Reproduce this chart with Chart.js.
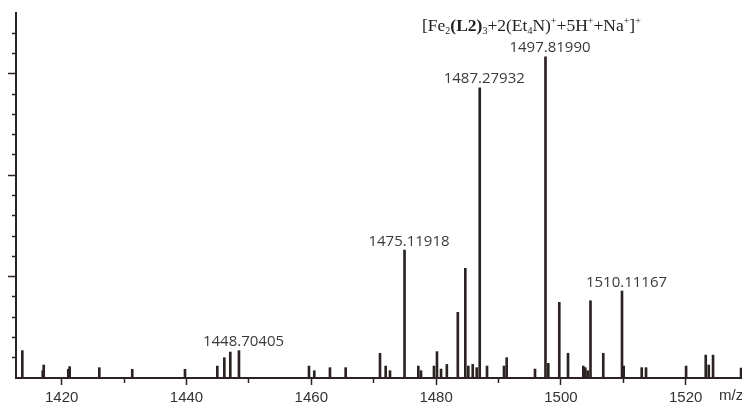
<!DOCTYPE html>
<html>
<head>
<meta charset="utf-8">
<script src="https://cdn.jsdelivr.net/npm/chart.js@4.4.1/dist/chart.umd.min.js"></script>
<style>
  html, body { margin: 0; padding: 0; background: #fff; }
  #wrap { width: 742px; height: 405px; }
</style>
</head>
<body>
<div id="wrap"><canvas id="myChart"></canvas></div>
<script>
// peak positions (m/z) and relative intensities
var mz = [1413.69, 1416.96, 1417.12, 1421.06, 1421.28, 1426.03, 1431.31, 1439.76,
  1444.94, 1446.06, 1447.02, 1448.41, 1459.63, 1460.48, 1462.99, 1465.51,
  1471.01, 1471.92, 1472.61, 1474.94, 1477.15, 1477.58, 1479.66, 1480.14,
  1480.79, 1481.72, 1483.48, 1484.68, 1485.16, 1485.87, 1486.51, 1486.99,
  1488.16, 1490.88, 1491.31, 1495.85, 1497.53, 1497.98, 1499.74, 1501.14,
  1503.59, 1503.91, 1504.29, 1504.74, 1506.79, 1509.79, 1510.06, 1512.95,
  1513.64, 1520.06, 1523.21, 1523.69, 1524.38, 1528.87];
var intensity = [1.35, 0.36, 0.64, 0.43, 0.56, 0.51, 0.43, 0.43,
  0.59, 1.0, 1.28, 1.35, 0.59, 0.36, 0.51, 0.51,
  1.22, 0.59, 0.36, 6.31, 0.59, 0.36, 0.59, 1.3,
  0.44, 0.67, 3.24, 5.41, 0.59, 0.67, 0.51, 14.31,
  0.59, 0.59, 1.0, 0.44, 15.84, 0.72, 3.73, 1.22,
  0.59, 0.51, 0.36, 3.81, 1.22, 4.29, 0.59, 0.51,
  0.51, 0.59, 1.13, 0.64, 1.13, 0.49];

// annotated peaks: where they sit on the axis and the text printed above them
var labelPos = [1448.41, 1474.94, 1486.99, 1497.53, 1509.79];
var labelText = ['1448.70405', '1475.11918', '1487.27932', '1497.81990', '1510.11167'];

var xMin = 1412.68, xMax = 1529.02;
var yMax = 18;

var ink = '#2a2322';

// ion formula, split in runs: n = normal, b = bold, sub / sup = small
var formula = [
  ['[Fe', 'n'], ['2', 'sub'], ['(L2)', 'b'], ['3', 'sub'], ['+2(Et', 'n'], ['4', 'sub'],
  ['N)', 'n'], ['+', 'sup'], ['+5H', 'n'], ['+', 'sup'], ['+Na', 'n'], ['+', 'sup'],
  [']', 'n'], ['+', 'sup']
];

function tickVal(ctx) { return ctx && ctx.tick ? ctx.tick.value : null; }

var annotate = {
  id: 'annotate',
  afterDatasetsDraw: function(chart) {
    var c = chart.ctx, xs = chart.scales.x, ys = chart.scales.y;
    c.save();
    // peak labels
    c.font = '15px "Open Sans"';
    c.fillStyle = '#3a3a3a';
    c.textAlign = 'center';
    c.textBaseline = 'alphabetic';
    labelPos.forEach(function(p, k) {
      var i = mz.indexOf(p);
      var px = xs.getPixelForValue(p);
      var py = ys.getPixelForValue(intensity[i]);
      c.fillText(labelText[k], px + 4.5, py - 4.5);
    });

    // m/z axis name
    c.font = '15px "Liberation Sans"';
    c.fillStyle = '#333';
    c.textAlign = 'left';
    c.textBaseline = 'top';
    c.fillText('m/z', 719, 388.5);

    // formula
    c.textBaseline = 'alphabetic';
    var x = 422, base = 31;
    formula.forEach(function(run) {
      var t = run[0], s = run[1], dy = 0;
      if (s === 'n') c.font = '17.5px "Liberation Serif"';
      else if (s === 'b') c.font = 'bold 17.5px "Liberation Serif"';
      else { c.font = '10px "Liberation Serif"'; dy = s === 'sub' ? 3 : -7; }
      c.fillStyle = '#222';
      c.fillText(t, x, base + dy);
      x += c.measureText(t).width;
    });
    c.restore();
  }
};

new Chart(document.getElementById('myChart'), {
  type: 'bar',
  data: {
    datasets: [{
      data: mz.map(function(m, i) { return { x: m, y: intensity[i] }; }),
      backgroundColor: ink,
      borderWidth: 0,
      barThickness: 2
    }]
  },
  options: {
    responsive: true,
    maintainAspectRatio: false,
    animation: false,
    layout: { padding: { top: 13, right: 0, left: 0, bottom: 0 } },
    plugins: { legend: { display: false }, tooltip: { enabled: false } },
    scales: {
      x: {
        type: 'linear',
        min: xMin,
        max: xMax,
        offset: false,
        border: { color: ink, width: 2 },
        grid: {
          offset: false,
          drawOnChartArea: false,
          tickLength: 7,
          tickWidth: 1.5,
          tickColor: ink,
          tickBorderDash: function(ctx) {
            var v = tickVal(ctx);
            return (v === null || v % 20 === 0) ? [] : [4, 20];
          }
        },
        ticks: {
          stepSize: 10,
          includeBounds: false,
          autoSkip: false,
          maxRotation: 0,
          padding: 4,
          color: '#333',
          font: { family: 'Liberation Sans', size: 15 },
          callback: function(v) { return v % 20 === 0 ? String(v) : ''; }
        },
        afterFit: function(s) { s.height = 27; }
      },
      y: {
        min: 0,
        max: yMax,
        border: { color: ink, width: 2 },
        grid: {
          drawOnChartArea: false,
          tickLength: 8,
          tickWidth: 1.5,
          tickColor: function(ctx) {
            var v = tickVal(ctx);
            return (v === 0 || v === yMax) ? 'rgba(0,0,0,0)' : ink;
          },
          tickBorderDash: function(ctx) {
            var v = tickVal(ctx);
            return (v === null || v % 5 === 0) ? [] : [0, 4, 20];
          }
        },
        ticks: { stepSize: 1, display: false },
        afterFit: function(s) { s.width = 16; }
      }
    }
  },
  plugins: [annotate]
});
</script>
</body>
</html>
